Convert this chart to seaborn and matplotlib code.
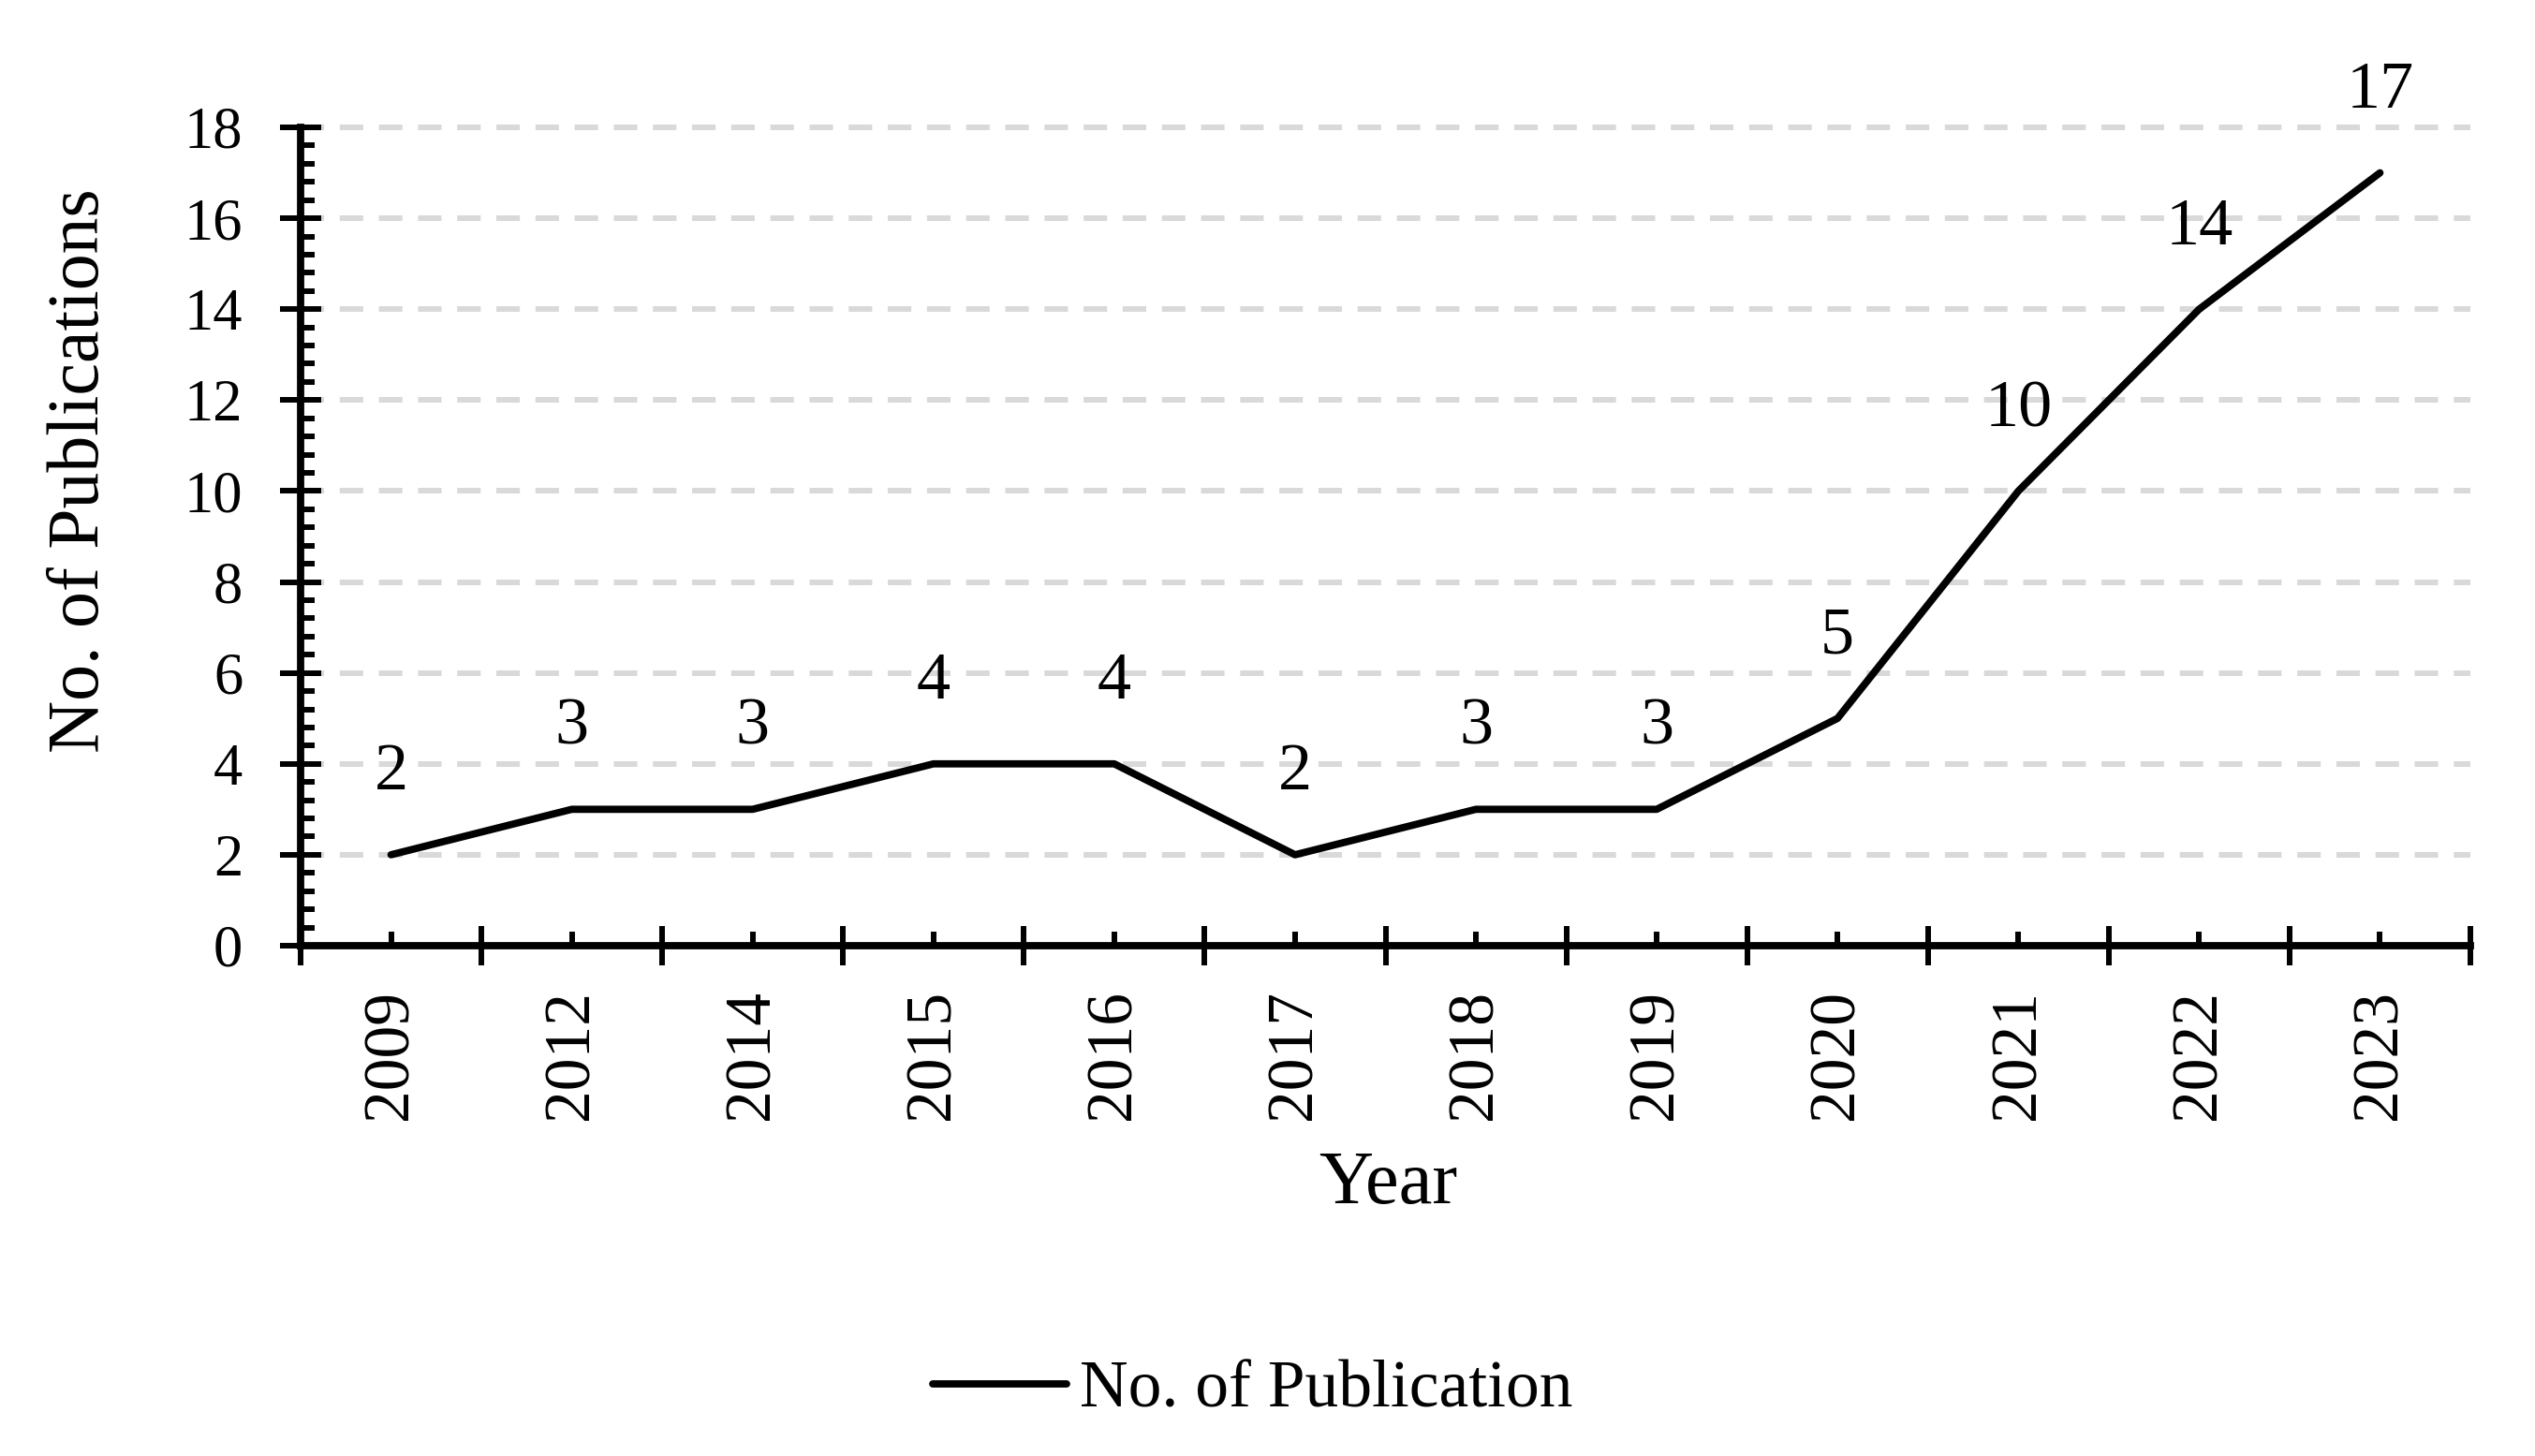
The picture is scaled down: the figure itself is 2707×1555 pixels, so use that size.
import numpy as np
import pandas as pd
import matplotlib
matplotlib.use("Agg")
import matplotlib.pyplot as plt
from matplotlib.ticker import MultipleLocator, FixedLocator
import seaborn as sns

years = ["2009", "2012", "2014", "2015", "2016", "2017",
         "2018", "2019", "2020", "2021", "2022", "2023"]
counts = [2, 3, 3, 4, 4, 2, 3, 3, 5, 10, 14, 17]
series_name = "No. of Publication"

df = pd.DataFrame({"Year": years, "n": counts})

sns.set_style("white")
plt.rcParams["font.family"] = ["Liberation Serif", "DejaVu Serif"]
plt.rcParams["text.color"] = "black"
plt.rcParams["xtick.color"] = "black"
plt.rcParams["ytick.color"] = "black"
plt.rcParams["axes.labelcolor"] = "black"

W, H = 2707, 1555
fig = plt.figure(figsize=(W / 100, H / 100), dpi=100)
ax = fig.add_axes([321 / W, (H - 1010) / H, (2638 - 321) / W, (1010 - 136) / H])

sns.lineplot(data=df, x="Year", y="n", ax=ax, color="black", lw=5.6,
             sort=False, label=series_name, solid_capstyle="round", zorder=3)

# data labels above each point
for i, v in enumerate(counts):
    ax.annotate(str(v), (i, v), xytext=(0, 50), textcoords="offset points",
                ha="center", va="baseline", fontsize=52, color="black")

ax.set_xlim(-0.5, len(years) - 0.5)
ax.set_ylim(0, 18)

# y axis: crossing majors, inner minors
ax.yaxis.set_major_locator(MultipleLocator(2))
ax.yaxis.set_minor_locator(MultipleLocator(0.4))
ax.tick_params(axis="y", which="both", left=True, right=False, color="black")
ax.tick_params(axis="y", which="major", direction="inout", length=31, width=4.3,
               labelsize=45, pad=29)
ax.tick_params(axis="y", which="minor", direction="in", length=11, width=4.3)

# x axis: labels at centres, crossing ticks on category boundaries
ax.set_xticks(range(len(years)), years, rotation=90)
ax.xaxis.set_minor_locator(FixedLocator(np.arange(-0.5, len(years), 1.0)))
ax.tick_params(axis="x", which="both", bottom=True, top=False, color="black")
ax.tick_params(axis="x", which="major", direction="in", length=11, width=4.3,
               labelsize=50, pad=34)
ax.tick_params(axis="x", which="minor", direction="inout", length=30, width=4.3)

ax.yaxis.grid(True, color="#d9d9d9", lw=4.3, linestyle=(0, (4.2, 2.8)), zorder=0)
ax.xaxis.grid(False)
for gl in ax.get_ygridlines():
    gl.set_clip_on(False)
ax.set_axisbelow(True)

sns.despine(ax=ax, top=True, right=True)
for s in ("left", "bottom"):
    ax.spines[s].set_linewidth(5.6)
    ax.spines[s].set_color("black")

ax.set_xlabel("")
ax.set_ylabel("")
fig.text(86 / W, 1 - 503 / H, "No. of Publications", rotation=90,
         ha="center", va="center", fontsize=56)
fig.text(1482 / W, 1 - 1265 / H, "Year", ha="center", va="center", fontsize=58)

leg = ax.legend(loc="center left", bbox_to_anchor=(996 / W, 1 - 1485 / H),
                bbox_transform=fig.transFigure, frameon=False, fontsize=51.5,
                handlelength=2.0, handletextpad=0.2, borderpad=0, borderaxespad=0)
for t in leg.get_texts():
    t.set_color("black")

fig.savefig("out.png", dpi=100)
